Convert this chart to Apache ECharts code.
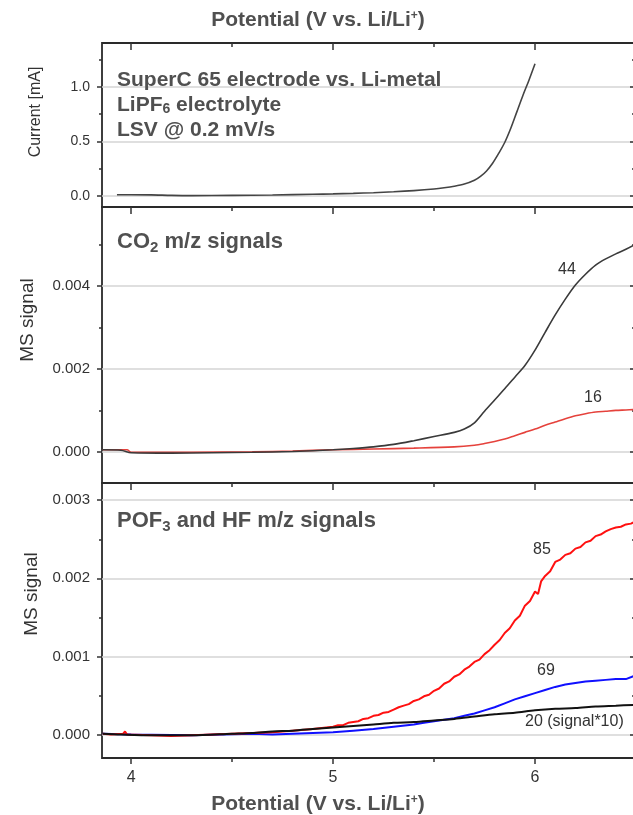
<!DOCTYPE html>
<html><head><meta charset="utf-8">
<script src="https://cdn.jsdelivr.net/npm/echarts@6/dist/echarts.min.js"></script>
<style>html,body{margin:0;padding:0;background:#fff}#c{width:633px;height:815px}</style>
</head><body><div id="c"></div>
<script>
// ---- tick values ----
const potentialTicks = [4, 5, 6];
const potentialMinorTicks = [4.5, 5.5];
const currentTicks = [0, 0.5, 1.0];
const currentMinorTicks = [0.25, 0.75, 1.25];
const co2Ticks = [0, 0.002, 0.004];
const co2MinorTicks = [0.001, 0.003, 0.005];
const pofTicks = [0, 0.001, 0.002, 0.003];
const pofMinorTicks = [0.0005, 0.0015, 0.0025];

// ---- top panel: LSV current ----
const currentV = [3.93, 4.0, 4.1, 4.2, 4.3, 4.5, 4.7, 4.9, 5.0, 5.1, 5.2, 5.3, 5.4, 5.5, 5.55, 5.6, 5.65, 5.7, 5.73, 5.76, 5.79, 5.82, 5.85, 5.88, 5.91, 5.94, 5.97, 6.0];
const currentI = [0.012, 0.012, 0.011, 0.006, 0.004, 0.006, 0.010, 0.016, 0.020, 0.025, 0.031, 0.039, 0.050, 0.065, 0.076, 0.090, 0.110, 0.145, 0.180, 0.230, 0.300, 0.390, 0.490, 0.620, 0.770, 0.920, 1.060, 1.210];

// ---- middle panel: CO2 m/z 44 and 16 ----
const mz44V = [3.86, 3.95, 4.0, 4.2, 4.4, 4.6, 4.8, 5.0, 5.1, 5.2, 5.3, 5.4, 5.5, 5.6, 5.65, 5.7, 5.75, 5.8, 5.85, 5.9, 5.95, 6.0, 6.05, 6.1, 6.15, 6.2, 6.25, 6.3, 6.35, 6.4, 6.45, 6.49];
const mz44 = [0.00005, 0.00004, -0.00002, -0.00003, -0.00002, -0.00001, 0.00001, 0.00005, 0.00008, 0.00012, 0.00018, 0.00027, 0.00037, 0.00047, 0.00055, 0.00070, 0.00098, 0.00125, 0.00152, 0.00180, 0.00208, 0.00245, 0.00288, 0.00330, 0.00368, 0.00402, 0.00428, 0.00450, 0.00465, 0.00477, 0.00488, 0.00498];
const mz16V = [3.86, 3.98, 4.0, 4.3, 4.6, 4.8, 5.0, 5.2, 5.4, 5.6, 5.7, 5.75, 5.8, 5.85, 5.9, 5.95, 6.0, 6.05, 6.1, 6.15, 6.2, 6.25, 6.3, 6.35, 6.4, 6.45, 6.49];
const mz16 = [0.00005, 0.00005, -0.00001, -0.00001, 0.0, 0.00002, 0.00005, 0.00007, 0.00009, 0.00012, 0.00016, 0.00020, 0.00025, 0.00031, 0.00039, 0.00047, 0.00055, 0.00064, 0.00072, 0.00080, 0.00087, 0.00092, 0.00096, 0.00098, 0.00100, 0.00101, 0.00102];

// ---- bottom panel: POF3 / HF m/z 85, 69, 20 ----
const mz85V = [3.86, 3.9, 3.96, 3.97, 3.98, 4.1, 4.2, 4.3, 4.4, 4.5, 4.6, 4.7, 4.8, 4.9,
  5.0, 5.025, 5.05, 5.075, 5.1, 5.125, 5.15, 5.175, 5.2, 5.225, 5.25, 5.275, 5.3, 5.325, 5.35, 5.375, 5.4, 5.425, 5.45, 5.475, 5.5, 5.525, 5.55, 5.575, 5.6, 5.625, 5.65, 5.675, 5.7, 5.725, 5.75, 5.775, 5.8, 5.825, 5.85, 5.875, 5.9, 5.925, 5.95, 5.975, 6.0, 6.015, 6.03, 6.05, 6.075, 6.1, 6.125, 6.15, 6.175, 6.2, 6.225, 6.25, 6.275, 6.3, 6.325, 6.35, 6.375, 6.4, 6.425, 6.45, 6.475, 6.49];
const mz85 = [0.00001, 0.0, 0.00001, 0.00004, 0.0, -0.00001, -0.00002, -0.00001, 0.0, 0.00001, 0.00002, 0.00003, 0.00005, 0.00007,
  0.00010, 0.00012, 0.00012, 0.00015, 0.00016, 0.00017, 0.00020, 0.00021, 0.00024, 0.00025, 0.00028, 0.00029, 0.00032, 0.00035, 0.00037, 0.00039, 0.00043, 0.00045, 0.00049, 0.00051, 0.00056, 0.00059, 0.00065, 0.00068, 0.00074, 0.00077, 0.00083, 0.00087, 0.00093, 0.00096, 0.00103, 0.00108, 0.00115, 0.00121, 0.00130, 0.00136, 0.00146, 0.00152, 0.00165, 0.00171, 0.00183, 0.00180, 0.00196, 0.00203, 0.00209, 0.00221, 0.00224, 0.00230, 0.00232, 0.00238, 0.00240, 0.00246, 0.00248, 0.00254, 0.00256, 0.00260, 0.00263, 0.00265, 0.00266, 0.00269, 0.00270, 0.00272];
const mz69V = [3.86, 4.0, 4.3, 4.6, 4.7, 4.8, 4.9, 5.0, 5.1, 5.2, 5.3, 5.4, 5.45, 5.5, 5.55, 5.6, 5.65, 5.7, 5.75, 5.8, 5.85, 5.9, 5.95, 6.0, 6.05, 6.1, 6.15, 6.2, 6.25, 6.3, 6.35, 6.4, 6.45, 6.49];
const mz69 = [0.00001, 0.0, -0.00001, 0.00001, 0.0, 0.00001, 0.00002, 0.00003, 0.00005, 0.00007, 0.00010, 0.00013, 0.00015, 0.00017, 0.00019, 0.00021, 0.00024, 0.00027, 0.00031, 0.00035, 0.00040, 0.00045, 0.00049, 0.00053, 0.00057, 0.00061, 0.00064, 0.00066, 0.00068, 0.00069, 0.00070, 0.00071, 0.00071, 0.00075];
const mz20V = [3.86, 3.95, 4.1, 4.3, 4.5, 4.6, 4.7, 4.8, 4.9, 5.0, 5.1, 5.2, 5.3, 5.4, 5.5, 5.6, 5.7, 5.8, 5.9, 6.0, 6.1, 6.2, 6.3, 6.4, 6.49];
const mz20 = [0.00001, 0.0, -0.00001, -0.00001, 0.00001, 0.00002, 0.00004, 0.00005, 0.00007, 0.00009, 0.00011, 0.00013, 0.00015, 0.00016, 0.00018, 0.00020, 0.00023, 0.00026, 0.00028, 0.00031, 0.00033, 0.00034, 0.00036, 0.00037, 0.00038];

const zip = (xs, ys) => xs.map((x, i) => [x, ys[i]]);
const FONT = 'Liberation Sans, Arial, sans-serif';
const XMIN = 3.856, XMAX = 6.5;

const panels = [
  { top: 43, height: 164, min: -0.1, max: 1.4, ticks: currentTicks, minor: currentMinorTicks, dec: 1, fs: 14, bottomAxis: false },
  { top: 207, height: 276, min: -0.00075, max: 0.0059, ticks: co2Ticks, minor: co2MinorTicks, dec: 3, fs: 15, bottomAxis: false },
  { top: 483, height: 275, min: -0.0003, max: 0.00322, ticks: pofTicks, minor: pofMinorTicks, dec: 3, fs: 15, bottomAxis: true }
];

const tickLine = { color: '#333', width: 1.5 };
const grid = [], xAxis = [], yAxis = [];
panels.forEach((p, gi) => {
  grid.push({ left: 102, width: 534, top: p.top, height: p.height, outerBoundsMode: 'none', containLabel: false,
    show: true, borderColor: '#2a2a2a', borderWidth: 1.8, backgroundColor: 'transparent' });
  const xb = (pos, vals, len, inside, ticks, labels) => ({
    type: 'value', gridIndex: gi, position: pos, min: XMIN, max: XMAX,
    axisLine: { show: false, onZero: false }, splitLine: { show: false },
    axisTick: { show: ticks, inside: inside, length: len, customValues: vals, lineStyle: tickLine },
    axisLabel: { show: labels, customValues: vals, margin: 12, fontSize: 16, color: '#333', fontFamily: FONT }
  });
  xAxis.push(xb('bottom', potentialTicks, 6, false, p.bottomAxis, p.bottomAxis));
  xAxis.push(xb('bottom', potentialMinorTicks, 4, false, p.bottomAxis, false));
  xAxis.push(xb('top', potentialTicks, 7, true, true, false));
  xAxis.push(xb('top', potentialMinorTicks, 4, true, true, false));
  const yb = (pos, vals, len, inside, labels, split) => ({
    type: 'value', gridIndex: gi, position: pos, min: p.min, max: p.max,
    axisLine: { show: false, onZero: false },
    splitLine: { show: split, lineStyle: { color: '#d4d4d4', width: 1.5 } },
    axisTick: { show: true, inside: inside, length: len, customValues: vals, lineStyle: tickLine },
    axisLabel: { show: labels, customValues: vals, margin: 12, fontSize: p.fs, color: '#333', fontFamily: FONT,
      formatter: v => Number(v).toFixed(p.dec) }
  });
  yAxis.push(yb('left', p.ticks, 5, false, true, true));
  yAxis.push(yb('left', p.minor, 3, false, false, false));
  yAxis.push(yb('right', p.ticks, 6, true, false, false));
  yAxis.push(yb('right', p.minor, 4, true, false, false));
});

const line = (gi, data, color, width, z, smooth) => ({
  type: 'line', xAxisIndex: gi * 4, yAxisIndex: gi * 4, data: data,
  showSymbol: false, symbol: 'none', clip: true, z: z, smooth: smooth,
  lineStyle: { color: color, width: width }
});

const series = [
  line(0, zip(currentV, currentI), '#444444', 1.6, 2, 0.3),
  line(1, zip(mz16V, mz16), '#e5423c', 1.6, 2, 0.3),
  line(1, zip(mz44V, mz44), '#3a3a3a', 1.6, 3, 0.3),
  line(2, zip(mz69V, mz69), '#1010ff', 2, 2, false),
  line(2, zip(mz85V, mz85), '#ff1010', 2, 3, false),
  line(2, zip(mz20V, mz20), '#111111', 2, 4, 0.3)
];

const txt = (x, y, text, size, align) => ({
  type: 'text', x: x, y: y, z: 100,
  style: { text: text, fontSize: size, fill: '#333', fontFamily: FONT, align: align, verticalAlign: 'middle' }
});

const boldRich = (size, subSize, subPad) => ({
  b: { fontSize: size, fontWeight: 'bold', fill: '#505050', fontFamily: FONT },
  sub: { fontSize: subSize, fontWeight: 'bold', fill: '#505050', fontFamily: FONT, padding: [subPad, 0, 0, 0] },
  sup: { fontSize: subSize, fontWeight: 'bold', fill: '#505050', fontFamily: FONT, padding: [0, 0, subPad, 0] }
});

const graphic = [
  { type: 'text', x: 318, y: 20, z: 100, style: { text: '{b|Potential (V vs. Li/Li}{sup|+}{b|)}', rich: boldRich(21, 12, 9), align: 'center', verticalAlign: 'middle' } },
  { type: 'text', x: 318, y: 804, z: 100, style: { text: '{b|Potential (V vs. Li/Li}{sup|+}{b|)}', rich: boldRich(21, 12, 9), align: 'center', verticalAlign: 'middle' } },
  { type: 'text', x: 36, y: 112, rotation: Math.PI / 2, z: 100, style: { text: 'Current [mA]', fontSize: 16, fill: '#333', fontFamily: FONT, align: 'center', verticalAlign: 'middle' } },
  { type: 'text', x: 28, y: 320, rotation: Math.PI / 2, z: 100, style: { text: 'MS signal', fontSize: 19, fill: '#333', fontFamily: FONT, align: 'center', verticalAlign: 'middle' } },
  { type: 'text', x: 32, y: 594, rotation: Math.PI / 2, z: 100, style: { text: 'MS signal', fontSize: 19, fill: '#333', fontFamily: FONT, align: 'center', verticalAlign: 'middle' } },
  { type: 'text', x: 117, y: 80, z: 100, style: { text: '{b|SuperC 65 electrode vs. Li-metal}', rich: boldRich(21, 14, 9), align: 'left', verticalAlign: 'middle' } },
  { type: 'text', x: 117, y: 105, z: 100, style: { text: '{b|LiPF}{sub|6}{b| electrolyte}', rich: boldRich(21, 14, 9), align: 'left', verticalAlign: 'middle' } },
  { type: 'text', x: 117, y: 130, z: 100, style: { text: '{b|LSV @ 0.2 mV/s}', rich: boldRich(21, 14, 9), align: 'left', verticalAlign: 'middle' } },
  { type: 'text', x: 117, y: 242, z: 100, style: { text: '{b|CO}{sub|2}{b| m/z signals}', rich: boldRich(22, 15, 12), align: 'left', verticalAlign: 'middle' } },
  { type: 'text', x: 117, y: 521, z: 100, style: { text: '{b|POF}{sub|3}{b| and HF m/z signals}', rich: boldRich(22, 15, 12), align: 'left', verticalAlign: 'middle' } },
  txt(567, 270, '44', 16, 'center'),
  txt(593, 398, '16', 16, 'center'),
  txt(542, 550, '85', 16, 'center'),
  txt(546, 671, '69', 16, 'center'),
  txt(525, 722, '20 (signal*10)', 16, 'left')
];

const chart = echarts.init(document.getElementById('c'), null, { renderer: 'canvas' });
chart.setOption({
  animation: false,
  backgroundColor: '#fff',
  textStyle: { fontFamily: FONT },
  grid: grid, xAxis: xAxis, yAxis: yAxis, series: series, graphic: graphic
});
</script></body></html>
